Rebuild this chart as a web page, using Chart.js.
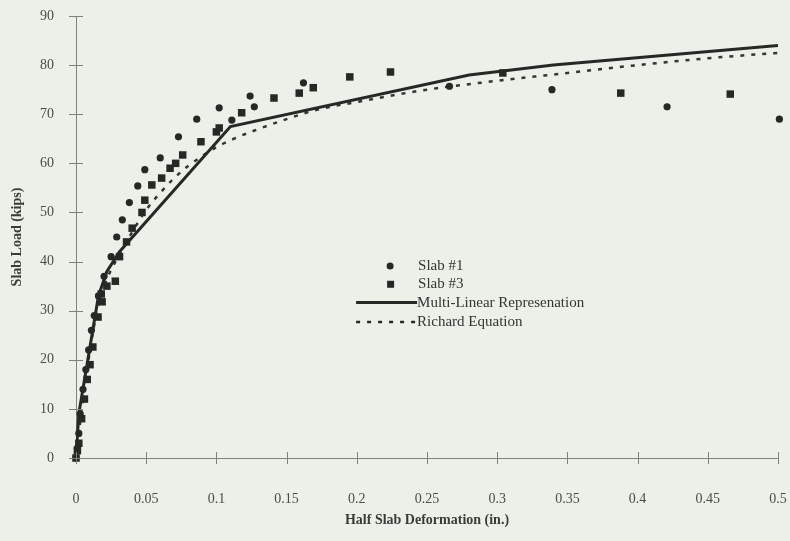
<!DOCTYPE html>
<html>
<head>
<meta charset="utf-8">
<script src="https://cdn.jsdelivr.net/npm/chart.js@4.4.1/dist/chart.umd.min.js"></script>
<style>
html,body{margin:0;padding:0;background:#edefe9;}
#wrap{width:790px;height:541px;}
</style>
</head>
<body>
<div id="wrap"><canvas id="c" width="790" height="541"></canvas></div>
<script>
// ---- data ----
const xTicks = [0, 0.05, 0.1, 0.15, 0.2, 0.25, 0.3, 0.35, 0.4, 0.45, 0.5];
const yTicks = [0, 10, 20, 30, 40, 50, 60, 70, 80, 90];

const slab1X = [0, 0.001, 0.002, 0.003, 0.005, 0.007, 0.009, 0.011, 0.013, 0.016, 0.02, 0.025, 0.029, 0.033, 0.038, 0.044, 0.049, 0.06, 0.073, 0.086, 0.102, 0.111, 0.124, 0.127, 0.162, 0.266, 0.339, 0.421, 0.501];
const slab1Y = [0, 2, 5, 9, 14, 18, 22, 26, 29, 33, 37, 41, 45, 48.5, 52, 55.4, 58.7, 61.1, 65.4, 69, 71.3, 68.8, 73.7, 71.5, 76.4, 75.7, 75, 71.5, 69];

const slab3X = [0, 0.001, 0.002, 0.004, 0.006, 0.008, 0.01, 0.012, 0.0157, 0.018, 0.0186, 0.022, 0.028, 0.031, 0.036, 0.04, 0.047, 0.049, 0.054, 0.061, 0.067, 0.071, 0.076, 0.089, 0.1, 0.102, 0.118, 0.141, 0.159, 0.169, 0.195, 0.224, 0.304, 0.388, 0.466];
const slab3Y = [0, 1.5, 3, 8, 12, 16, 19, 22.6, 28.7, 33.4, 31.8, 35, 36, 41, 44, 46.8, 50, 52.5, 55.6, 57, 59, 60, 61.7, 64.4, 66.4, 67.2, 70.3, 73.3, 74.3, 75.4, 77.6, 78.6, 78.4, 74.3, 74.1];

const multiX = [0, 0.002, 0.016, 0.022, 0.031, 0.11, 0.28, 0.34, 0.5];
const multiY = [0, 9, 33, 38, 42, 67.5, 78, 80, 84];

const richardX = [0, 0.005, 0.01, 0.015, 0.02, 0.03, 0.04, 0.05, 0.06, 0.07, 0.08, 0.09, 0.1, 0.11, 0.13, 0.15, 0.17, 0.2, 0.25, 0.3, 0.35, 0.4, 0.45, 0.5];
const richardY = [0, 12, 22, 30, 35, 41, 46, 50.5, 54, 57, 59.5, 61.5, 63.3, 64.7, 67, 69, 70.8, 72.5, 75, 76.8, 78.4, 80, 81.4, 82.5];

const legendLabels = ['Slab #1', 'Slab #3', 'Multi-Linear Represenation', 'Richard Equation'];

// ---- build chart ----
const toPts = (xs, ys) => xs.map((x, i) => ({x: x, y: ys[i]}));
const ink = '#262826';
const axisGrey = '#7f817d';
const textGrey = '#4a4c4a';
const serif = "'Liberation Serif', 'DejaVu Serif', serif";

const crossTicks = {
  id: 'crossTicks',
  afterDraw(chart) {
    const ctx = chart.ctx;
    const xs = chart.scales.x, ys = chart.scales.y;
    ctx.save();
    ctx.strokeStyle = axisGrey;
    ctx.lineWidth = 1;
    const yAxisX = xs.getPixelForValue(0);
    const xAxisY = ys.getPixelForValue(0);
    yTicks.forEach(v => {
      const p = Math.round(ys.getPixelForValue(v)) + 0.5;
      ctx.beginPath(); ctx.moveTo(yAxisX - 7, p); ctx.lineTo(yAxisX + 7, p); ctx.stroke();
    });
    xTicks.forEach(v => {
      const p = Math.round(xs.getPixelForValue(v)) + 0.5;
      ctx.beginPath(); ctx.moveTo(p, xAxisY - 6); ctx.lineTo(p, xAxisY + 6); ctx.stroke();
    });
    ctx.restore();
  }
};

const customLegend = {
  id: 'customLegend',
  afterDraw(chart) {
    const ctx = chart.ctx;
    const xs = chart.scales.x, ys = chart.scales.y;
    const lx = xs.getPixelForValue(0.1995);
    const ly = ys.getPixelForValue(39.1);
    const rowH = 18.3;
    ctx.save();
    ctx.font = "15px " + serif;
    ctx.textBaseline = 'middle';
    const textX = lx + 62;
    ctx.beginPath(); ctx.arc(lx + 34, ly, 3.5, 0, Math.PI * 2); ctx.fillStyle = ink; ctx.fill();
    ctx.fillStyle = '#333533'; ctx.fillText(legendLabels[0], textX, ly);
    ctx.fillStyle = ink; ctx.fillRect(lx + 31, ly + rowH - 3.5, 7, 7);
    ctx.fillStyle = '#333533'; ctx.fillText(legendLabels[1], textX, ly + rowH);
    ctx.strokeStyle = ink; ctx.lineWidth = 3;
    ctx.beginPath(); ctx.moveTo(lx, ly + 2 * rowH); ctx.lineTo(lx + 61, ly + 2 * rowH); ctx.stroke();
    ctx.fillText(legendLabels[2], lx + 61, ly + 2 * rowH);
    ctx.setLineDash([4, 7]); ctx.lineWidth = 2.5;
    ctx.beginPath(); ctx.moveTo(lx, ly + 3 * rowH + 1); ctx.lineTo(lx + 61, ly + 3 * rowH + 1); ctx.stroke();
    ctx.setLineDash([]);
    ctx.fillText(legendLabels[3], lx + 61, ly + 3 * rowH + 1);
    ctx.restore();
  }
};

new Chart(document.getElementById('c'), {
  type: 'scatter',
  data: {
    datasets: [
      { label: legendLabels[2], type: 'line', data: toPts(multiX, multiY), borderColor: ink, borderWidth: 3, pointRadius: 0, fill: false, tension: 0, order: 3 },
      { label: legendLabels[3], type: 'line', data: toPts(richardX, richardY), borderColor: '#333533', borderWidth: 2.5, borderDash: [4, 7], pointRadius: 0, fill: false, cubicInterpolationMode: 'monotone', order: 4 },
      { label: legendLabels[0], data: toPts(slab1X, slab1Y), pointStyle: 'circle', pointRadius: 3.6, backgroundColor: ink, borderColor: ink, borderWidth: 0, clip: false, order: 1 },
      { label: legendLabels[1], data: toPts(slab3X, slab3Y), pointStyle: 'rect', pointRadius: 5.3, backgroundColor: ink, borderColor: ink, borderWidth: 0, clip: false, order: 2 }
    ]
  },
  options: {
    responsive: false,
    animation: false,
    devicePixelRatio: 1,
    layout: { padding: { left: 0, right: 12, top: 16, bottom: 0 } },
    plugins: { legend: { display: false }, tooltip: { enabled: false } },
    scales: {
      x: {
        type: 'linear', min: 0, max: 0.5,
        afterBuildTicks: s => { s.ticks = xTicks.map(v => ({value: v})); },
        afterFit: s => { s.height = 83; s.paddingLeft = 0; s.paddingRight = 0; },
        grid: { display: false },
        border: { display: true, color: axisGrey, width: 1 },
        ticks: { color: textGrey, padding: 25, font: { family: serif, size: 14 }, callback: v => String(v), maxRotation: 0, autoSkip: false },
        title: { display: true, text: 'Half Slab Deformation (in.)', color: '#3a3c3a', font: { family: serif, size: 14, weight: 'bold' }, padding: { top: 0, bottom: 12 } }
      },
      y: {
        type: 'linear', min: 0, max: 90,
        afterBuildTicks: s => { s.ticks = yTicks.map(v => ({value: v})); },
        afterFit: s => { s.width = 76; s.paddingTop = 0; s.paddingBottom = 0; },
        grid: { display: false },
        border: { display: true, color: axisGrey, width: 1 },
        ticks: { color: textGrey, padding: 14, font: { family: serif, size: 14 }, autoSkip: false },
        title: { display: true, text: 'Slab Load (kips)', color: '#3a3c3a', font: { family: serif, size: 14, weight: 'bold' }, padding: { top: 9, bottom: 0 } }
      }
    }
  },
  plugins: [crossTicks, customLegend]
});
</script>
</body>
</html>
